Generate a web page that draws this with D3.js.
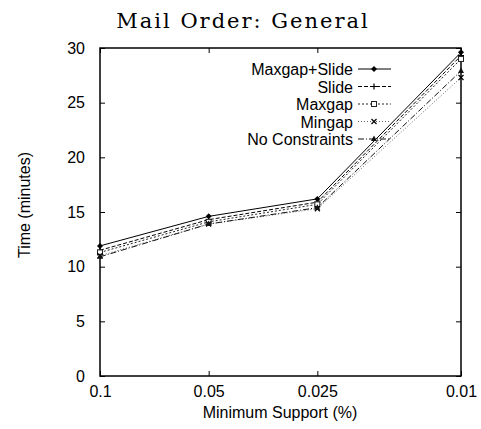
<!DOCTYPE html>
<html>
<head>
<meta charset="utf-8">
<script src="https://cdn.jsdelivr.net/npm/d3@7"></script>
<style>
  body { margin: 0; background: #fff; }
  text { font-family: "Liberation Sans", Arial, sans-serif; }
</style>
</head>
<body>
<svg id="chart" width="481" height="429"></svg>
<script>
const supports = [0.1, 0.05, 0.025, 0.01];
const supportLabels = ["0.1", "0.05", "0.025", "0.01"];
const yTicks = [0, 5, 10, 15, 20, 25, 30];

const seriesNames = ["Maxgap+Slide", "Slide", "Maxgap", "Mingap", "No Constraints"];
const maxgapSlide = [11.9, 14.6, 16.2, 29.6];
const slide = [11.5, 14.3, 15.9, 29.3];
const maxgap = [11.3, 14.1, 15.7, 29.0];
const mingap = [11.0, 13.9, 15.3, 27.3];
const noConstraints = [10.9, 13.9, 15.4, 27.9];

const margin = { top: 48, right: 20, bottom: 53, left: 100 };
const width = 481 - margin.left - margin.right;
const height = 429 - margin.top - margin.bottom;

const styles = [
  { dash: null, color: "#000", marker: "diamond" },
  { dash: "4,2", color: "#000", marker: "plus" },
  { dash: "2,2", color: "#222", marker: "square" },
  { dash: "1,2", color: "#666", marker: "cross" },
  { dash: "6,2,1,2", color: "#111", marker: "triangle" }
];

const data = [maxgapSlide, slide, maxgap, mingap, noConstraints];

const svg = d3.select("#chart");
const g = svg.append("g").attr("transform", `translate(${margin.left},${margin.top})`);

const x = d3.scaleLog().domain([0.1, 0.01]).range([0, width]);
const y = d3.scaleLinear().domain([0, 30]).range([height, 0]);

// ticks (inward, mirrored)
g.append("g").attr("transform", `translate(0,${height})`)
  .call(d3.axisBottom(x).tickValues(supports).tickSize(-5).tickPadding(10).tickFormat((d, i) => supportLabels[i]))
  .call(a => a.select(".domain").remove());
g.append("g")
  .call(d3.axisTop(x).tickValues(supports).tickSize(-5).tickFormat(""))
  .call(a => a.select(".domain").remove());
g.append("g")
  .call(d3.axisLeft(y).tickValues(yTicks).tickSize(-5).tickPadding(15))
  .call(a => a.select(".domain").remove());
g.append("g").attr("transform", `translate(${width},0)`)
  .call(d3.axisRight(y).tickValues(yTicks).tickSize(-5).tickFormat(""))
  .call(a => a.select(".domain").remove());

g.selectAll(".tick text").attr("font-size", 16).attr("fill", "#000")
  .style("font-family", "Liberation Sans, Arial, sans-serif");
g.selectAll(".tick line").attr("stroke", "#000");

g.append("rect").attr("width", width).attr("height", height)
  .attr("fill", "none").attr("stroke", "#000").attr("stroke-width", 1.5);

function drawMarker(sel, type, cx, cy, color) {
  const s = 3;
  if (type === "diamond") {
    sel.append("path").attr("d", `M${cx},${cy - s}L${cx + s},${cy}L${cx},${cy + s}L${cx - s},${cy}Z`).attr("fill", color);
  } else if (type === "plus") {
    sel.append("path").attr("d", `M${cx - s},${cy}H${cx + s}M${cx},${cy - s}V${cy + s}`).attr("stroke", color).attr("stroke-width", 1.2);
  } else if (type === "square") {
    sel.append("rect").attr("x", cx - 2.5).attr("y", cy - 2.5).attr("width", 5).attr("height", 5)
      .attr("fill", "#fff").attr("stroke", color).attr("stroke-width", 1);
  } else if (type === "cross") {
    sel.append("path").attr("d", `M${cx - 2.5},${cy - 2.5}L${cx + 2.5},${cy + 2.5}M${cx - 2.5},${cy + 2.5}L${cx + 2.5},${cy - 2.5}`).attr("stroke", "#000").attr("stroke-width", 1.2);
  } else if (type === "triangle") {
    sel.append("path").attr("d", `M${cx},${cy - 3.5}L${cx + 3},${cy + 2}L${cx - 3},${cy + 2}Z`).attr("fill", color);
  }
}

const line = d3.line().x((d, i) => x(supports[i])).y(d => y(d));

data.forEach((vals, k) => {
  const st = styles[k];
  g.append("path").datum(vals)
    .attr("fill", "none").attr("stroke", st.color).attr("stroke-width", 1)
    .attr("stroke-dasharray", st.dash).attr("d", line);
  const mg = g.append("g");
  vals.forEach((v, i) => drawMarker(mg, st.marker, x(supports[i]), y(v), st.color));
});

// legend
const legend = svg.append("g");
seriesNames.forEach((name, k) => {
  const st = styles[k];
  const ly = 69 + k * 17.5;
  legend.append("text").attr("x", 353).attr("y", ly + 6).attr("text-anchor", "end")
    .attr("font-size", 16).attr("fill", "#000").text(name);
  legend.append("line").attr("x1", 358).attr("x2", 391).attr("y1", ly).attr("y2", ly)
    .attr("stroke", st.color).attr("stroke-width", 1).attr("stroke-dasharray", st.dash);
  drawMarker(legend, st.marker, 374, ly, st.color);
});

// titles
svg.append("text").attr("x", 243).attr("y", 28).attr("text-anchor", "middle")
  .style("font-family", "DejaVu Serif, serif").attr("font-size", 21).attr("letter-spacing", 2)
  .text("Mail Order: General");
svg.append("text").attr("x", 280).attr("y", 418).attr("text-anchor", "middle")
  .attr("font-size", 16).text("Minimum Support (%)");
svg.append("text").attr("transform", "translate(30,205) rotate(-90)").attr("text-anchor", "middle")
  .attr("font-size", 16).text("Time (minutes)");
</script>
</body>
</html>
